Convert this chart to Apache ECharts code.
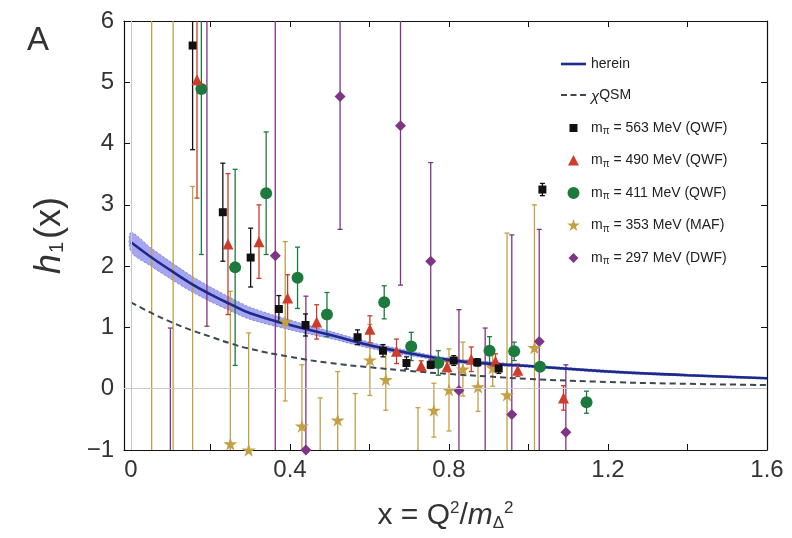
<!DOCTYPE html>
<html>
<head>
<meta charset="utf-8">
<script src="https://cdn.jsdelivr.net/npm/echarts@6/dist/echarts.min.js"></script>
<style>
  html, body { margin: 0; padding: 0; background: #fff; }
  #chart { width: 792px; height: 538px; }
</style>
</head>
<body>
<div id="chart"></div>
<script>
// curves
const curveX = [0, 0.05, 0.1, 0.15, 0.2, 0.25, 0.3, 0.4, 0.5, 0.6, 0.7, 0.8, 0.9, 1.0, 1.2, 1.4, 1.6];
const hereinY = [2.39, 2.15, 1.93, 1.72, 1.54, 1.38, 1.23, 1.04, 0.88, 0.71, 0.58, 0.47, 0.41, 0.37, 0.28, 0.22, 0.17];
const bandHalf = [0.16, 0.15, 0.14, 0.13, 0.12, 0.11, 0.10, 0.08, 0.06, 0.05, 0.04, 0.03, 0.03, 0.02, 0.02, 0.015, 0.01];
const qsmY = [1.41, 1.24, 1.09, 0.96, 0.85, 0.74, 0.65, 0.52, 0.42, 0.35, 0.29, 0.24, 0.20, 0.16, 0.11, 0.08, 0.06];

// lattice points: x, h1, error
const m563X = [0.155, 0.231, 0.301, 0.372, 0.439, 0.570, 0.634, 0.693, 0.754, 0.812, 0.871, 0.925, 1.035];
const m563Y = [5.60, 2.88, 2.14, 1.30, 1.04, 0.84, 0.62, 0.42, 0.39, 0.46, 0.43, 0.33, 3.25];
const m563E = [1.70, 0.80, 0.48, 0.22, 0.18, 0.12, 0.10, 0.10, 0.06, 0.08, 0.06, 0.08, 0.10];

const m490X = [0.166, 0.244, 0.322, 0.394, 0.467, 0.601, 0.668, 0.730, 0.795, 0.856, 0.917, 0.973, 1.088];
const m490Y = [5.04, 2.36, 2.40, 1.48, 1.09, 0.97, 0.61, 0.375, 0.36, 0.48, 0.45, 0.30, -0.15];
const m490E = [1.93, 1.15, 0.60, 0.38, 0.28, 0.22, 0.20, 0.08, 0.08, 0.20, 0.12, 0.10, 0.20];

const m411X = [0.177, 0.262, 0.340, 0.419, 0.493, 0.637, 0.705, 0.773, 0.902, 0.964, 1.029, 1.146];
const m411Y = [4.89, 1.98, 3.19, 1.81, 1.21, 1.41, 0.69, 0.42, 0.62, 0.61, 0.36, -0.22];
const m411E = [2.70, 1.60, 1.00, 0.50, 0.36, 0.27, 0.23, 0.20, 0.23, 0.15, 0.06, 0.18];

const m353X = [0.052, 0.106, 0.155, 0.250, 0.296, 0.388, 0.430, 0.476, 0.520, 0.564, 0.601, 0.641, 0.722, 0.762, 0.800, 0.835, 0.873, 0.910, 0.946, 1.015];
const m353Y = [-2.0, -2.5, -1.5, -0.90, -1.0, 1.10, -0.61, -1.70, -0.51, -1.50, 0.47, 0.15, -1.50, -0.35, -0.02, 0.32, 0.03, 0.34, -0.10, 0.67];
const m353E = [9.0, 9.0, 4.8, 2.49, 1.91, 1.30, 1.00, 1.55, 0.79, 1.42, 0.58, 0.50, 1.19, 0.44, 0.67, 0.44, 0.40, 0.30, 2.64, 2.33];

const m297X = [0.099, 0.191, 0.363, 0.440, 0.526, 0.678, 0.754, 0.825, 0.891, 0.958, 1.027, 1.094];
const m297Y = [-2.5, 7.5, 2.17, -1.0, 4.77, 4.29, 2.08, -0.03, -1.3, -0.42, 0.77, -0.71];
const m297E = [3.49, 6.48, 4.5, 2.51, 2.17, 2.6, 1.61, 1.32, 2.29, 2.93, 1.83, 1.10];

const xTickValues = [0, 0.2, 0.4, 0.6, 0.8, 1.0, 1.2, 1.4, 1.6];
const xLabelValues = [0, 0.4, 0.8, 1.2, 1.6];

const FONT = "Liberation Sans";
const STAR = "path://M50,0 L61,35 L98,35 L68,57 L79,91 L50,70 L21,91 L32,57 L2,35 L39,35 Z";
// legend icons: tiny corner dots fix the box so the marks keep their size
const PAD = "M0,0h0.01v0.01h-0.01z M13,13h0.01v0.01h-0.01z ";
const ICON_RECT = "path://" + PAD + "M2.5,2.5h8v8h-8z";
const ICON_TRI = "path://" + PAD + "M6.5,1 L12,11.5 L1,11.5 Z";
const ICON_CIRCLE = "path://" + PAD + "M0.5,6.5 a6,6 0 1,0 12,0 a6,6 0 1,0 -12,0 z";
const ICON_STAR = "path://" + PAD + "M6.5,0 L8,4.6 L12.8,4.6 L8.9,7.4 L10.4,12 L6.5,9.2 L2.6,12 L4.1,7.4 L0.2,4.6 L5,4.6 Z";
const ICON_DIAMOND = "path://" + PAD + "M6.5,1.5 L11.5,6.5 L6.5,11.5 L1.5,6.5 Z";
const ICON_LINE = "path://M0,0h25v2.6h-25z";
const ICON_DASH = "path://M0,0h6v2h-6z M9.5,0h6v2h-6z M19,0h6v2h-6z";

const chart = echarts.init(document.getElementById("chart"));

function errorBars(xs, ys, es, color) {
  return {
    type: "custom",
    silent: true,
    clip: true,
    z: 2,
    data: xs.map((x, i) => [x, ys[i] - es[i], ys[i] + es[i]]),
    encode: { x: 0, y: [1, 2] },
    renderItem: function (params, api) {
      const lo = api.coord([api.value(0), api.value(1)]);
      const hi = api.coord([api.value(0), api.value(2)]);
      const w = 2.5;
      const style = { stroke: color, lineWidth: 1.3 };
      return {
        type: "group",
        children: [
          { type: "line", shape: { x1: lo[0], y1: lo[1], x2: hi[0], y2: hi[1] }, style },
          { type: "line", shape: { x1: lo[0] - w, y1: lo[1], x2: lo[0] + w, y2: lo[1] }, style },
          { type: "line", shape: { x1: hi[0] - w, y1: hi[1], x2: hi[0] + w, y2: hi[1] }, style },
        ],
      };
    },
  };
}

function points(name, xs, ys, symbol, size, color) {
  return {
    name: name,
    type: "scatter",
    z: 4,
    symbol: symbol,
    symbolSize: size,
    symbolKeepAspect: true,
    itemStyle: { color: color, opacity: 1 },
    data: xs.map((x, i) => [x, ys[i]]),
  };
}

const names = [
  "herein",
  "χQSM",
  "mπ = 563 MeV (QWF)",
  "mπ = 490 MeV (QWF)",
  "mπ = 411 MeV (QWF)",
  "mπ = 353 MeV (MAF)",
  "mπ = 297 MeV (DWF)",
];
const legendIcons = [ICON_LINE, ICON_DASH, ICON_RECT, ICON_TRI, ICON_CIRCLE, ICON_STAR, ICON_DIAMOND];

const colBlack = "#111111";
const colRed = "#cc3d2b";
const colGreen = "#1d7a3e";
const colGold = "#c4a044";
const colPurple = "#7e3585";
const colHerein = "#1c2a8c";
const colQsm = "#3e4852";

const option = {
  animation: false,
  backgroundColor: "#fff",
  textStyle: { fontFamily: FONT },
  grid: { left: 124, right: 25, top: 21, bottom: 88 },
  graphic: [
    { type: "text", left: 27, top: 24, style: { text: "A", fontSize: 33, fontFamily: FONT, fill: "#333" } },
  ],
  legend: {
    data: names.map((n, i) => ({ name: n, icon: legendIcons[i] })),
    orient: "vertical",
    left: 556,
    top: 52,
    itemWidth: 25,
    itemHeight: 13,
    itemGap: 17,
    selectedMode: false,
    symbolKeepAspect: true,
    textStyle: {
      fontFamily: FONT,
      fontSize: 14,
      color: "#222",
      rich: {
        t: { fontSize: 14, fontFamily: FONT, color: "#222" },
        s: { fontSize: 10, fontFamily: FONT, color: "#222", padding: [7, 0, 0, 0] },
        g: { fontSize: 15, fontFamily: FONT, fontStyle: "italic", color: "#222", padding: [3, 0, 0, 0] },
      },
    },
    formatter: function (name) {
      if (name.startsWith("mπ")) return "{t|m}{s|π}{t|" + name.slice(2) + "}";
      if (name === "χQSM") return "{g|χ}{t|QSM}";
      return "{t|" + name + "}";
    },
  },
  xAxis: [
    {
      type: "value",
      min: -0.0176,
      max: 1.6,
      name: "{n|x = Q}{p|2}{n|/}{i|m}{b|Δ}{p|2}",
      nameLocation: "middle",
      nameGap: 50,
      nameTextStyle: {
        rich: {
          n: { fontSize: 30, fontFamily: FONT, color: "#333" },
          i: { fontSize: 30, fontFamily: FONT, fontStyle: "italic", color: "#333" },
          p: { fontSize: 17, fontFamily: FONT, color: "#333", padding: [0, 0, 15, 0] },
          b: { fontSize: 17, fontFamily: FONT, color: "#333", padding: [15, 0, 0, 0] },
        },
      },
      axisLine: { onZero: false, lineStyle: { color: "#111", width: 1.2 } },
      axisTick: { inside: true, length: 6, customValues: xTickValues, lineStyle: { color: "#111" } },
      axisLabel: {
        customValues: xLabelValues,
        fontSize: 24,
        fontFamily: FONT,
        color: "#333",
        margin: 8,
        formatter: (v) => String(v),
      },
      splitLine: { show: false },
    },
    {
      type: "value",
      position: "top",
      min: -0.0176,
      max: 1.6,
      axisLine: { onZero: false, lineStyle: { color: "#111", width: 1.2 } },
      axisTick: { inside: true, length: 6, customValues: xTickValues, lineStyle: { color: "#111" } },
      axisLabel: { show: false },
      splitLine: { show: false },
    },
  ],
  yAxis: [
    {
      type: "value",
      min: -1,
      max: 6,
      interval: 1,
      name: "{i|h}{s|1}{n|(x)}",
      nameLocation: "middle",
      nameGap: 56,
      nameTextStyle: {
        rich: {
          i: { fontSize: 36, fontFamily: FONT, fontStyle: "italic", color: "#333" },
          s: { fontSize: 20, fontFamily: FONT, color: "#333", padding: [14, 3, 0, 1] },
          n: { fontSize: 36, fontFamily: FONT, color: "#333" },
        },
      },
      axisLine: { show: true, onZero: false, lineStyle: { color: "#111", width: 1.2 } },
      axisTick: { show: true, inside: true, length: 6, lineStyle: { color: "#111" } },
      axisLabel: {
        fontSize: 24,
        fontFamily: FONT,
        color: "#333",
        margin: 10,
        formatter: (v) => (v < 0 ? "\u2212" + -v : String(v)),
      },
      splitLine: { show: false },
    },
    {
      type: "value",
      position: "right",
      min: -1,
      max: 6,
      interval: 1,
      axisLine: { show: true, onZero: false, lineStyle: { color: "#111", width: 1.2 } },
      axisTick: { show: true, inside: true, length: 6, lineStyle: { color: "#111" } },
      axisLabel: { show: false },
      splitLine: { show: false },
    },
  ],
  series: [
    {
      type: "custom",
      silent: true,
      clip: true,
      z: 1,
      data: [[0, 0]],
      renderItem: function (params, api) {
        const up = curveX.map((x, i) => api.coord([x, hereinY[i] + bandHalf[i]]));
        const dn = curveX.map((x, i) => api.coord([x, hereinY[i] - bandHalf[i]])).reverse();
        return {
          type: "polygon",
          shape: { points: up.concat(dn), smooth: 0.3 },
          style: { fill: "rgba(105,105,230,0.6)", stroke: "rgba(80,80,205,0.7)", lineWidth: 0.8, lineDash: [2, 2] },
        };
      },
    },
    {
      name: "herein",
      type: "line",
      z: 3,
      smooth: true,
      symbol: "none",
      lineStyle: { color: colHerein, width: 2.6 },
      itemStyle: { color: colHerein },
      data: curveX.map((x, i) => [x, hereinY[i]]),
    },
    {
      name: "χQSM",
      type: "line",
      z: 3,
      smooth: true,
      symbol: "none",
      lineStyle: { color: colQsm, width: 2, type: [6, 4] },
      itemStyle: { color: colQsm },
      data: curveX.map((x, i) => [x, qsmY[i]]),
      markLine: {
        silent: true,
        symbol: "none",
        label: { show: false },
        lineStyle: { color: "#c8c8c8", width: 1, type: "solid" },
        data: [{ xAxis: 0 }, { yAxis: 0 }],
      },
    },
    errorBars(m353X, m353Y, m353E, colGold),
    errorBars(m297X, m297Y, m297E, colPurple),
    errorBars(m411X, m411Y, m411E, colGreen),
    errorBars(m490X, m490Y, m490E, colRed),
    errorBars(m563X, m563Y, m563E, colBlack),
    points(names[6], m297X, m297Y, "diamond", 11, colPurple),
    points(names[5], m353X, m353Y, STAR, 14, colGold),
    points(names[4], m411X, m411Y, "circle", 12, colGreen),
    points(names[3], m490X, m490Y, "triangle", 11, colRed),
    points(names[2], m563X, m563Y, "rect", 8, colBlack),
  ],
};

chart.setOption(option);
</script>
</body>
</html>
